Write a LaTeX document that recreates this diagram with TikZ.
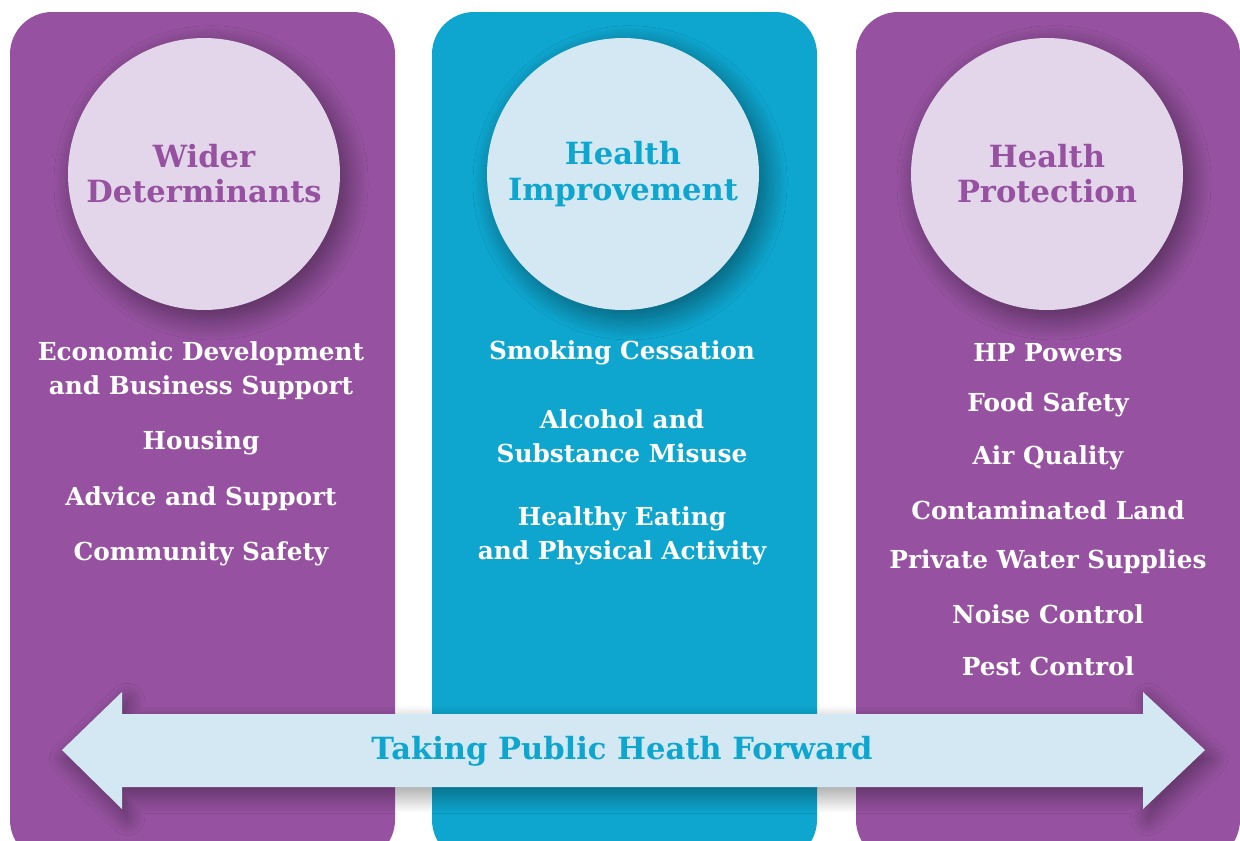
\documentclass[tikz,border=0pt]{standalone}
\usepackage{fontspec}
\setmainfont{DejaVu Serif}
\usetikzlibrary{shadows.blur}
\definecolor{phviolet}{HTML}{9652A0}
\definecolor{phblue}{HTML}{0EA6CF}
\definecolor{phlilac}{HTML}{E4D6EA}
\definecolor{phpale}{HTML}{D3E8F3}
\begin{document}
\begin{tikzpicture}[x=0.02cm, y=-0.02cm,
		column/.style={rounded corners=24pt},
		disc/.style={circle, inner sep=0pt, minimum size=5.44cm, align=center,
			font=\bfseries\fontsize{17.4}{20}\selectfont,
			blur shadow={shadow xshift=4pt, shadow yshift=-5pt, shadow blur radius=12pt,
				shadow blur steps=25, shadow opacity=45}},
		item/.style={text=white, align=center, font=\bfseries\fontsize{14.1}{19.3}\selectfont}
		]
	\useasboundingbox (0,0) rectangle (1240,840);
	% the three columns
	\fill[column, phviolet] (10,12) rectangle (395,862);
	\fill[column, phblue] (432,12) rectangle (817,862);
	\fill[column, phviolet] (856,12) rectangle (1240,862);
	% headings
	\node[disc, fill=phlilac, text=phviolet] (wider) at (204,174) {Wider\\Determinants};
	\node[disc, fill=phpale, text=phblue] (improve) at (623,174) {Health\\Improvement};
	\node[disc, fill=phlilac, text=phviolet] (protect) at (1047,174) {Health\\Protection};
	% left column
	\node[item] (econ) at (201,371) {Economic Development\\and Business Support};
	\node[item] (housing) at (201,443) {Housing};
	\node[item] (advice) at (201,499) {Advice and Support};
	\node[item] (safety) at (201,554) {Community Safety};
	% middle column
	\node[item] (smoking) at (622,353) {Smoking Cessation};
	\node[item] (alcohol) at (622,436) {Alcohol and\\Substance Misuse};
	\node[item] (eating) at (622,536) {Healthy Eating\\and Physical Activity};
	% right column
	\node[item] (powers) at (1048,353) {HP Powers};
	\node[item] (food) at (1048,405) {Food Safety};
	\node[item] (air) at (1048,458) {Air Quality};
	\node[item] (land) at (1048,510) {Contaminated Land};
	\node[item] (water) at (1048,562) {Private Water Supplies};
	\node[item] (noise) at (1048,614) {Noise Control};
	\node[item] (pest) at (1048,666) {Pest Control};
	% double arrow
	\fill[phpale, blur shadow={shadow xshift=3pt, shadow yshift=-5pt, shadow blur radius=10pt,
			shadow blur steps=25, shadow opacity=40}]
		(62,750) -- (122,692) -- (122,714) -- (1143,714) -- (1143,692) -- (1205,750)
		-- (1143,809) -- (1143,787) -- (122,787) -- (122,809) -- cycle;
	\node[text=phblue, font=\bfseries\fontsize{17.4}{20}\selectfont] (forward) at (622,751) {Taking Public Heath Forward};
\end{tikzpicture}
\end{document}
